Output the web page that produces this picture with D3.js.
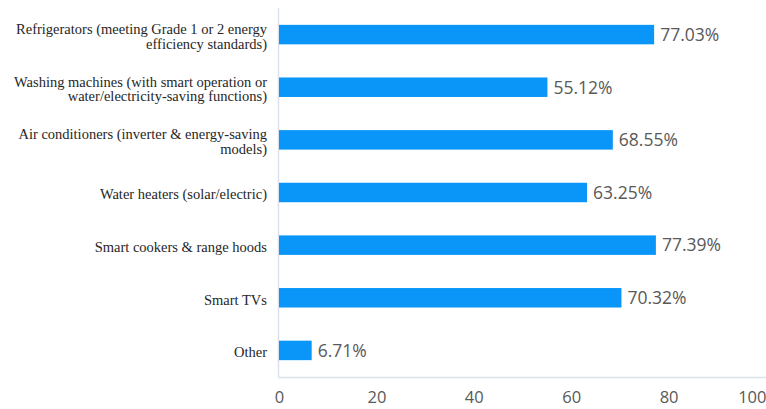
<!DOCTYPE html>
<html>
<head>
	<meta charset="utf-8">
	<script src="https://d3js.org/d3.v7.min.js"></script>
	<style>
		body{
			margin: 0;
			padding: 0;
			background: #fff;
		}
		.cat{
			font-family: "Liberation Serif", "Times New Roman", serif;
			font-size: 14.5px;
			fill: #262626;
		}
		.val, .tick text{
			font-family: "Open Sans", "Noto Sans", sans-serif;
			fill: #595959;
		}
	</style>
</head>
<body>
	<script type="text/javascript">
	// categories, split where the original label wraps
	var categories = [
		"Refrigerators (meeting Grade 1 or 2 energy\nefficiency standards)",
		"Washing machines (with smart operation or\nwater/electricity-saving functions)",
		"Air conditioners (inverter & energy-saving\nmodels)",
		"Water heaters (solar/electric)",
		"Smart cookers & range hoods",
		"Smart TVs",
		"Other"
	];
	var values = [77.03, 55.12, 68.55, 63.25, 77.39, 70.32, 6.71];
	var tickValues = [0, 20, 40, 60, 80, 100];

	var width = 766,
		height = 409;

	var svg = d3.select("body")
		.append("svg")
		.attr("width", width)
		.attr("height", height);

	var x = d3.scaleLinear()
		.domain([0, 100])
		.range([279, 766]);
	var y = d3.scaleBand()
		.domain(categories)
		.range([8, 377])
		.paddingInner(0.63)
		.paddingOuter(0.32);

	// axis lines
	svg.append("line")
		.attr("x1", 278.5).attr("x2", 278.5)
		.attr("y1", 8).attr("y2", 377)
		.attr("stroke", "#dbe1ec")
		.attr("stroke-width", 1.5);
	svg.append("line")
		.attr("x1", 278).attr("x2", 766)
		.attr("y1", 377.5).attr("y2", 377.5)
		.attr("stroke", "#dbe1ec")
		.attr("stroke-width", 1.5);

	// bars
	svg.selectAll("rect.bar")
		.data(values)
		.enter()
		.append("rect")
		.attr("class", "bar")
		.attr("x", x(0))
		.attr("y", function(d, i) { return y(categories[i]); })
		.attr("width", function(d) { return x(d) - x(0); })
		.attr("height", y.bandwidth())
		.attr("fill", "#0996f8");

	// value labels
	svg.selectAll("text.val")
		.data(values)
		.enter()
		.append("text")
		.attr("class", "val")
		.attr("x", function(d) { return x(d) + 6; })
		.attr("y", function(d, i) { return y(categories[i]) + y.bandwidth() / 2; })
		.attr("dy", "0.36em")
		.style("font-size", "17.5px")
		.text(function(d) { return d.toFixed(2) + "%"; });

	// category labels (one or two lines)
	var cat = svg.selectAll("text.cat")
		.data(categories)
		.enter()
		.append("text")
		.attr("class", "cat")
		.attr("text-anchor", "end")
		.attr("x", 267)
		.attr("y", function(d) { return y(d) + y.bandwidth() / 2 + 2; });
	cat.each(function(d) {
		var lines = d.split("\n");
		var t = d3.select(this);
		lines.forEach(function(l, k) {
			t.append("tspan")
				.attr("x", 267)
				.attr("dy", k === 0 ? ((0.33 - (lines.length - 1) * 0.5) + "em") : "1em")
				.text(l);
		});
	});

	// x axis tick labels
	var ax = svg.append("g")
		.attr("transform", "translate(0,377)")
		.call(d3.axisBottom(x).tickValues(tickValues).tickSize(0).tickPadding(14));
	ax.select(".domain").remove();
	ax.selectAll(".tick text")
		.style("font-size", "16.5px")
		.style("fill", "#595959")
		.attr("dy", "0.71em")
		.attr("text-anchor", function(d) { return d === 100 ? "end" : "middle"; })
		.attr("x", 0);
	</script>
</body>
</html>
